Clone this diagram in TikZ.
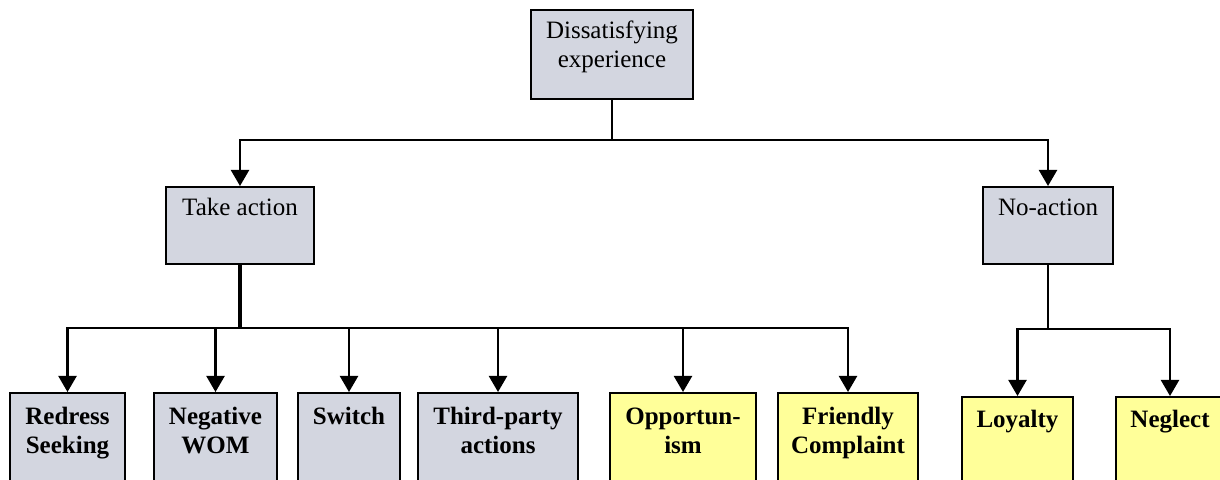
\documentclass[tikz,border=0pt]{standalone}
\usepackage{fontspec}
\setmainfont{Liberation Serif}
\usetikzlibrary{arrows.meta}
\definecolor{boxgray}{RGB}{211,214,224}
\definecolor{boxyellow}{RGB}{255,255,153}
\tikzset{
  box/.style={draw=black, line width=1pt, inner sep=0pt, anchor=north},
  graybox/.style={box, fill=boxgray},
  yellowbox/.style={box, fill=boxyellow},
  % base anchor of a multi-line label sits on its last line
  lbl/.style={inner sep=0pt, align=center, anchor=base,
    font=\fontsize{12.5}{14.5}\selectfont},
  blbl/.style={lbl, font=\fontsize{12.5}{14.5}\selectfont\bfseries},
  wire/.style={line width=1.1pt},
  arr/.style={wire, -{Triangle[length=8pt,width=9pt]}},
}
\begin{document}
\begin{tikzpicture}[x=0.5pt, y=-0.5pt]
\useasboundingbox (0,0) rectangle (1220,480);
\clip (0,0) rectangle (1220,480);

% root
\node[graybox, minimum width=81pt, minimum height=44.5pt] (root) at (612,9) {};
\node[lbl] (root-t) at (612,68) {Dissatisfying\\experience};

% second level
\node[graybox, minimum width=74pt, minimum height=38.5pt] (take) at (240,186) {};
\node[lbl] (take-t) at (240,216) {Take action};
\node[graybox, minimum width=65pt, minimum height=38.5pt] (none) at (1048,186) {};
\node[lbl] (none-t) at (1048,216) {No-action};

% responses to taking action
\node[graybox, minimum width=57.5pt, minimum height=60pt] (redress) at (67.5,392) {};
\node[blbl] (redress-t) at (67.5,453) {Redress\\Seeking};
\node[graybox, minimum width=61.5pt, minimum height=60pt] (wom) at (215.5,392) {};
\node[blbl] (wom-t) at (215.5,453) {Negative\\WOM};
\node[graybox, minimum width=51pt, minimum height=60pt] (switch) at (349,392) {};
\node[blbl] (switch-t) at (349,424) {Switch};
\node[graybox, minimum width=80pt, minimum height=60pt] (third) at (498,392) {};
\node[blbl] (third-t) at (498,453) {Third-party\\actions};
\node[yellowbox, minimum width=73pt, minimum height=60pt] (opp) at (683,392) {};
\node[blbl] (opp-t) at (683,453) {Opportun-\\ism};
\node[yellowbox, minimum width=70pt, minimum height=60pt] (friendly) at (848,392) {};
\node[blbl] (friendly-t) at (848,453) {Friendly\\Complaint};

% responses to taking no action
\node[yellowbox, minimum width=55.5pt, minimum height=60pt] (loyalty) at (1017.5,396) {};
\node[blbl] (loyalty-t) at (1017.5,428) {Loyalty};
\node[yellowbox, minimum width=54pt, minimum height=60pt] (neglect) at (1170,396) {};
\node[blbl] (neglect-t) at (1170,428) {Neglect};

% connectors
\coordinate (j0) at (612,140);
\coordinate (j1) at (240,328);
\coordinate (j2) at (1048,329);

\draw[wire] (root) -- (j0);
\draw[arr] (j0) -| (take);
\draw[arr] (j0) -| (none);

\draw[line width=1.6pt] (take) -- (j1);
\draw[arr] (j1) -| (redress);
\draw[arr] (j1) -| (wom);
\draw[arr] (j1) -| (switch);
\draw[arr] (j1) -| (third);
\draw[arr] (j1) -| (opp);
\draw[arr] (j1) -| (friendly);

\draw[wire] (none) -- (j2);
\draw[arr] (j2) -| (loyalty);
\draw[arr] (j2) -| (neglect);
\end{tikzpicture}
\end{document}
